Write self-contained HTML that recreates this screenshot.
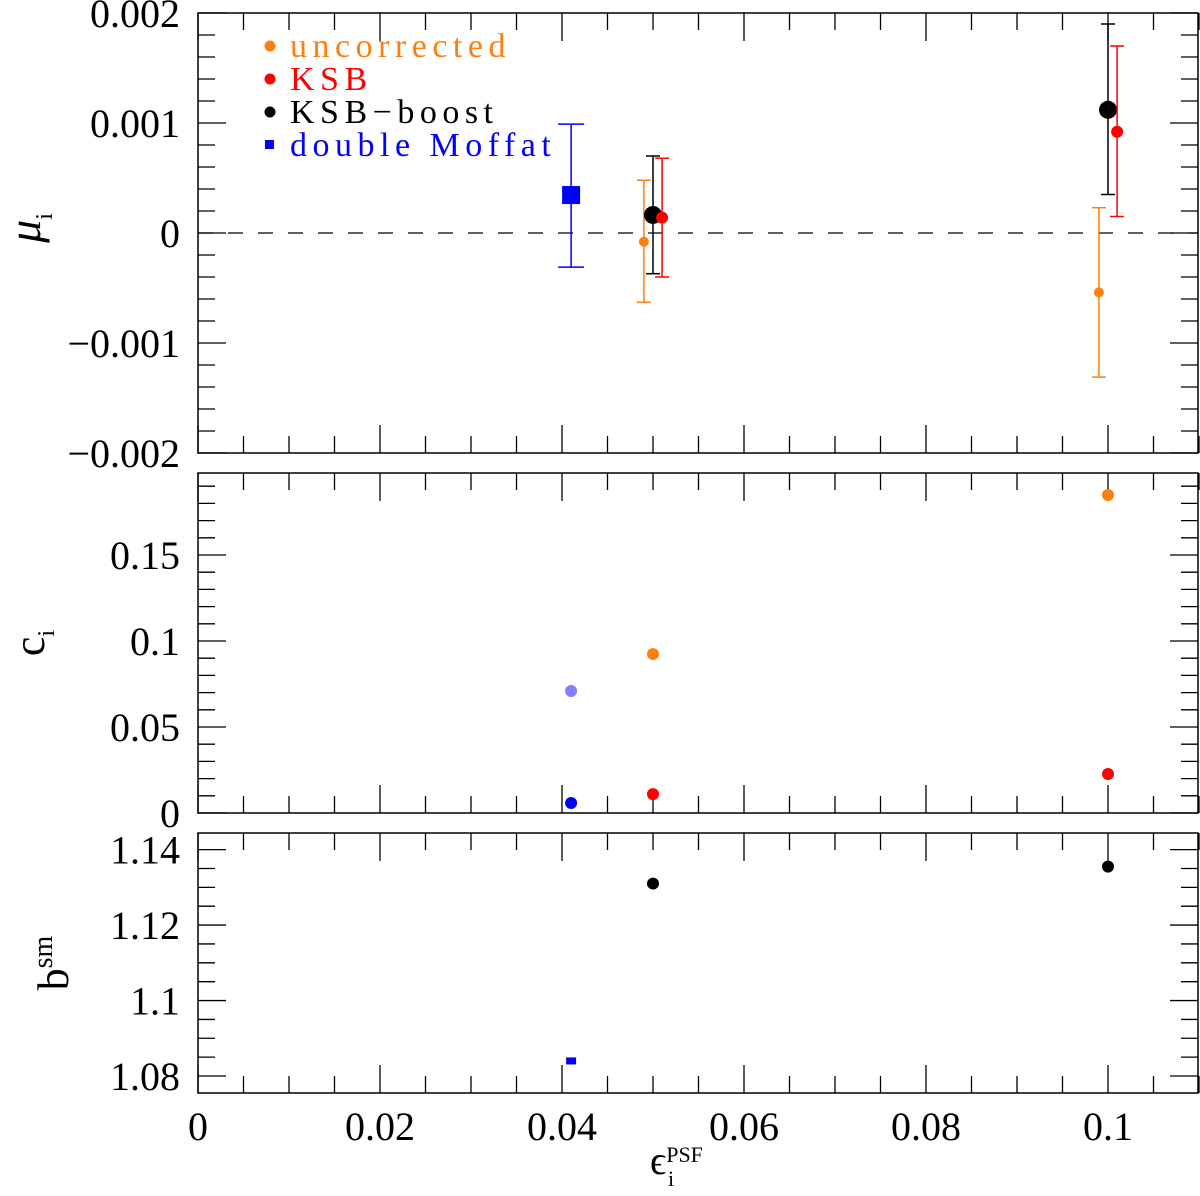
<!DOCTYPE html>
<html><head><meta charset="utf-8">
<style>
body{margin:0;background:#fff;}
svg text{font-family:"Liberation Serif",serif;}
</style></head>
<body>
<svg id="c" width="1200" height="1191" viewBox="0 0 1200 1191" xmlns="http://www.w3.org/2000/svg"></svg>
<script>
// ---- data ----
const muX = [0.041, 0.049, 0.050, 0.051, 0.099, 0.100, 0.101];
const muY = [0.000345, -0.00008, 0.000164, 0.00014, -0.00054, 0.00112, 0.00092];
const muHi = [0.00099, 0.00048, 0.0007, 0.00068, 0.00023, 0.0019, 0.0017];
const muLo = [-0.00031, -0.00063, -0.00037, -0.0004, -0.00131, 0.00035, 0.00015];
const muSeries = ['dm','unc','boost','ksb','unc','boost','ksb'];
const cX = [0.041, 0.041, 0.050, 0.050, 0.100, 0.100];
const cY = [0.0709, 0.0058, 0.0924, 0.011, 0.1849, 0.0227];
const cSeries = ['dmlight','dm','unc','ksb','unc','ksb'];
const bX = [0.041, 0.050, 0.100];
const bY = [1.084, 1.131, 1.1355];
const bSeries = ['dmsmall','boost','boost'];
const xTicks = [0, 0.02, 0.04, 0.06, 0.08, 0.1];
const xTickLabels = ['0','0.02','0.04','0.06','0.08','0.1'];
const muTicks = [-0.002,-0.001,0,0.001,0.002];
const muTickLabels = ['\u22120.002','\u22120.001','0','0.001','0.002'];
const cTicks = [0,0.05,0.1,0.15];
const cTickLabels = ['0','0.05','0.1','0.15'];
const bTicks = [1.08,1.1,1.12,1.14];
const bTickLabels = ['1.08','1.1','1.12','1.14'];
const legendLabels = ['uncorrected','KSB','KSB\u2212boost','double Moffat'];

const NS='http://www.w3.org/2000/svg';
const svg=document.getElementById('c');
function el(t,a,p){const e=document.createElementNS(NS,t);for(const k in a)e.setAttribute(k,a[k]);(p||svg).appendChild(e);return e;}
const X0=198,X1=1198;
const xs=v=>X0+v*9100;
const colors={unc:'#ff7f0e',ksb:'#ff0000',boost:'#000000',dm:'#0000ff',dmlight:'#7f7fff',dmsmall:'#0000ff'};
const panels=[
 {top:13,bot:453,y0:-0.002,y1:0.002,minor:0.0002,major:0.001,ticks:muTicks,labels:muTickLabels,name:'mu-panel'},
 {top:473,bot:813,y0:0,y1:0.19767,minor:0.01,major:0.05,ticks:cTicks,labels:cTickLabels,name:'c-panel'},
 {top:833,bot:1093,y0:1.0755,y1:1.1444,minor:0.005,major:0.02,ticks:bTicks,labels:bTickLabels,name:'b-panel'}
];
panels.forEach(p=>{p.ys=v=>p.bot-(v-p.y0)/(p.y1-p.y0)*(p.bot-p.top);});
panels.forEach((p,pi)=>{
 const g=el('g',{});
 
 
 el('rect',{x:X0,y:p.top,width:X1-X0,height:p.bot-p.top,fill:'none',stroke:'#000','stroke-width':1.5},g);
 for(let i=0;i<=22;i++){const v=i*0.005;const x=xs(v);const maj=i%4===0;const L=maj?28:17;
  el('line',{x1:x,x2:x,y1:p.bot,y2:p.bot-L,stroke:'#000','stroke-width':1.3},g);
  el('line',{x1:x,x2:x,y1:p.top,y2:p.top+L,stroke:'#000','stroke-width':1.3},g);}
 const n=Math.round((p.y1-p.y0)/p.minor)+2;
 const start=Math.ceil(p.y0/p.minor-1e-6);
 for(let k=start;k<start+n;k++){const v=k*p.minor;if(v>p.y1+1e-9)break;const y=p.ys(v);
  const r=v/p.major;const maj=Math.abs(r-Math.round(r))<1e-6;const L=maj?28:17;
  el('line',{x1:X0,x2:X0+L,y1:y,y2:y,stroke:'#000','stroke-width':1.3},g);
  el('line',{x1:X1,x2:X1-L,y1:y,y2:y,stroke:'#000','stroke-width':1.3},g);}
 p.ticks.forEach((v,i)=>{const t=el('text',{x:180,y:p.ys(v)+14,'text-anchor':'end','font-size':40},g);t.textContent=p.labels[i];
  
  });
});
xTicks.forEach((v,i)=>{const t=el('text',{x:xs(v),y:1140,'text-anchor':'middle','font-size':40});t.textContent=xTickLabels[i];
 
 });
let t=el('text',{x:650,y:1174,'font-size':40});
t.innerHTML='\u03F5<tspan font-size="22" dy="-12">PSF</tspan>';


t=el('text',{x:668,y:1186,'font-size':22});
t.textContent='i';


t=el('text',{transform:'translate(40,228) rotate(-90)','text-anchor':'middle','font-size':46,'font-style':'italic'});
t.innerHTML='\u03BC<tspan font-size="24" font-style="normal" dy="12">i</tspan>';


t=el('text',{transform:'translate(44,643) rotate(-90)','text-anchor':'middle','font-size':44});
t.innerHTML='c<tspan font-size="24" dy="10">i</tspan>';


t=el('text',{transform:'translate(68,963) rotate(-90)','text-anchor':'middle','font-size':44});
t.innerHTML='b<tspan font-size="28" dy="-16">sm</tspan>';


const P0=panels[0];
const zl=el('line',{x1:X0,x2:X1,y1:P0.ys(0),y2:P0.ys(0),stroke:'#000','stroke-width':1.3,'stroke-dasharray':'15 15'});


const rad={unc:5,ksb:6,boost:9};
muX.forEach((v,i)=>{const s=muSeries[i];const c=colors[s];const x=xs(v);const g=el('g',{});
 
 
 const yh=P0.ys(muHi[i]),yl=P0.ys(muLo[i]);const cw=s==='dm'?13:7;
 el('line',{x1:x,x2:x,y1:yh,y2:yl,stroke:c,'stroke-width':1.5},g);
 el('line',{x1:x-cw,x2:x+cw,y1:yh,y2:yh,stroke:c,'stroke-width':1.5},g);
 el('line',{x1:x-cw,x2:x+cw,y1:yl,y2:yl,stroke:c,'stroke-width':1.5},g);
 const y=P0.ys(muY[i]);
 if(s==='dm')el('rect',{x:x-9,y:y-9,width:18,height:18,fill:c},g);
 else el('circle',{cx:x,cy:y,r:rad[s],fill:c},g);
});
const P1=panels[1];
cX.forEach((v,i)=>{const s=cSeries[i];const c=el('circle',{cx:xs(v),cy:P1.ys(cY[i]),r:6,fill:colors[s]});
 
 });
const P2=panels[2];
bX.forEach((v,i)=>{const s=bSeries[i];const x=xs(v),y=P2.ys(bY[i]);let m;
 if(s==='dmsmall')m=el('rect',{x:x-5,y:y-3.5,width:10,height:7,fill:colors[s]});
 else m=el('circle',{cx:x,cy:y,r:6,fill:colors[s]});
 
 });
const lc=['unc','ksb','boost','dm'];
legendLabels.forEach((l,i)=>{const y=46+i*33;const g=el('g',{});
 
 
 if(lc[i]==='dm')el('rect',{x:265,y:y-5,width:9,height:9,fill:colors.dm},g);
 else el('circle',{cx:270,cy:y,r:5.5,fill:colors[lc[i]]},g);
 const tt=el('text',{x:290,y:y+11,'font-size':34,fill:colors[lc[i]],'letter-spacing':'5.5'},g);tt.textContent=l;});
</script>
</body></html>
